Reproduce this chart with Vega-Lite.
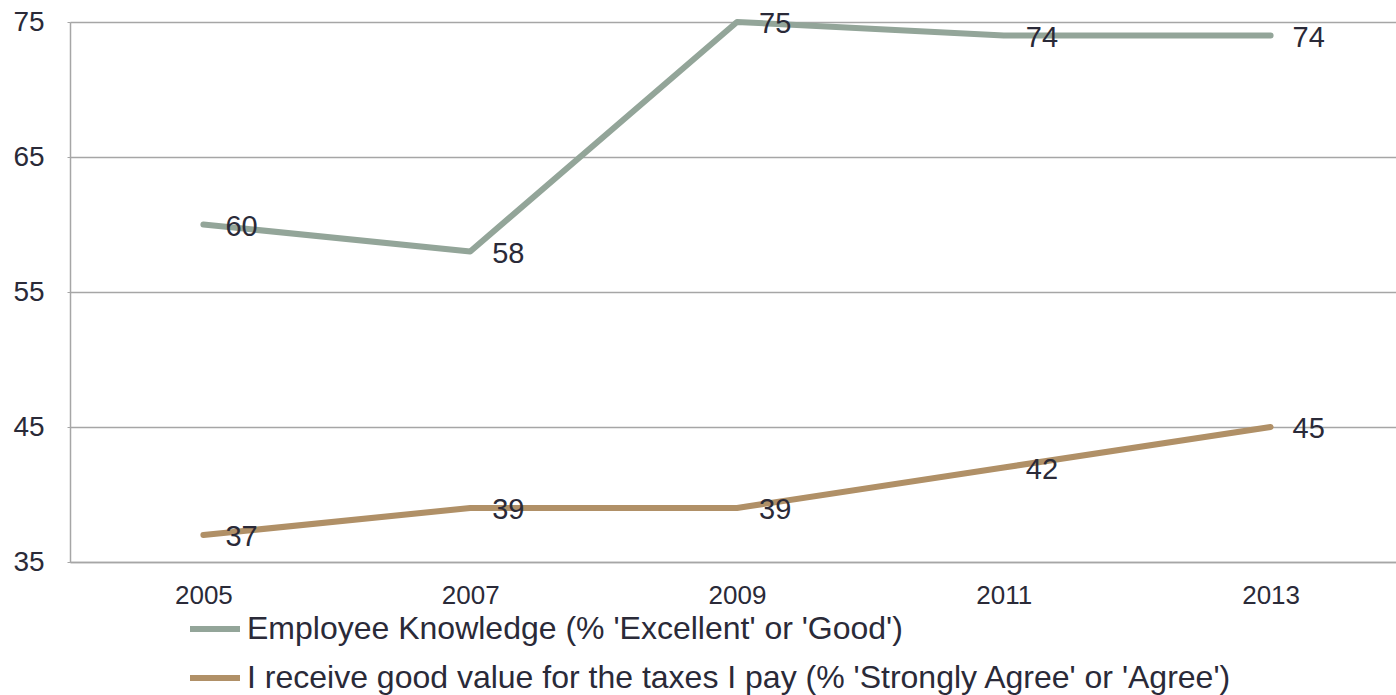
{
  "$schema": "https://vega.github.io/schema/vega-lite/v6.json",
  "autosize": "none",
  "width": 1334,
  "height": 540,
  "padding": {"left": 70, "top": 22, "right": 0, "bottom": 133},
  "background": "white",
  "config": {
    "view": {"stroke": null},
    "font": "Liberation Sans",
    "axis": {"labelFont": "Liberation Sans", "labelColor": "#2a2a38"},
    "legend": {"labelFont": "Liberation Sans", "labelColor": "#2a2a38"}
  },
  "data": {
    "values": [
      {"year": "2005", "series": "Employee Knowledge (% 'Excellent' or 'Good')", "value": 60},
      {"year": "2007", "series": "Employee Knowledge (% 'Excellent' or 'Good')", "value": 58},
      {"year": "2009", "series": "Employee Knowledge (% 'Excellent' or 'Good')", "value": 75},
      {"year": "2011", "series": "Employee Knowledge (% 'Excellent' or 'Good')", "value": 74},
      {"year": "2013", "series": "Employee Knowledge (% 'Excellent' or 'Good')", "value": 74},
      {"year": "2005", "series": "I receive good value for the taxes I pay (% 'Strongly Agree' or 'Agree')", "value": 37},
      {"year": "2007", "series": "I receive good value for the taxes I pay (% 'Strongly Agree' or 'Agree')", "value": 39},
      {"year": "2009", "series": "I receive good value for the taxes I pay (% 'Strongly Agree' or 'Agree')", "value": 39},
      {"year": "2011", "series": "I receive good value for the taxes I pay (% 'Strongly Agree' or 'Agree')", "value": 42},
      {"year": "2013", "series": "I receive good value for the taxes I pay (% 'Strongly Agree' or 'Agree')", "value": 45}
    ]
  },
  "encoding": {
    "x": {
      "field": "year",
      "type": "ordinal",
      "scale": {"type": "point", "padding": 0.5},
      "axis": {
        "title": null,
        "labelAngle": 0,
        "labelFontSize": 26,
        "labelPadding": 20,
        "ticks": false,
        "domainColor": "#a6a6a6",
        "domainWidth": 1.5,
        "grid": false
      }
    },
    "y": {
      "field": "value",
      "type": "quantitative",
      "scale": {"domain": [35, 75], "nice": false, "zero": false},
      "axis": {
        "title": null,
        "values": [35, 45, 55, 65, 75],
        "labelFontSize": 28,
        "labelAlign": "left",
        "labelPadding": 54,
        "tickSize": 3,
        "tickColor": "#a6a6a6",
        "domainColor": "#a6a6a6",
        "domainWidth": 1.5,
        "gridColor": "#a6a6a6",
        "gridWidth": 1.5
      }
    }
  },
  "layer": [
    {
      "mark": {"type": "line", "strokeWidth": 6, "strokeCap": "round", "strokeJoin": "round"},
      "encoding": {
        "color": {
          "field": "series",
          "type": "nominal",
          "scale": {
            "domain": [
              "Employee Knowledge (% 'Excellent' or 'Good')",
              "I receive good value for the taxes I pay (% 'Strongly Agree' or 'Agree')"
            ],
            "range": ["#93a599", "#b09067"]
          },
          "legend": {
            "title": null,
            "orient": "none",
            "legendX": 117,
            "legendY": 579,
            "padding": 0,
            "symbolType": "stroke",
            "symbolSize": 2500,
            "symbolStrokeWidth": 6,
            "labelFontSize": 32,
            "labelOffset": 4,
            "labelLimit": 1300,
            "rowPadding": 5
          }
        }
      }
    },
    {
      "mark": {"type": "text", "align": "left", "baseline": "middle", "dx": 22, "dy": 2, "fontSize": 29, "color": "#2a2a38"},
      "encoding": {
        "text": {"field": "value", "type": "quantitative"},
        "detail": {"field": "series", "type": "nominal"}
      }
    }
  ]
}
